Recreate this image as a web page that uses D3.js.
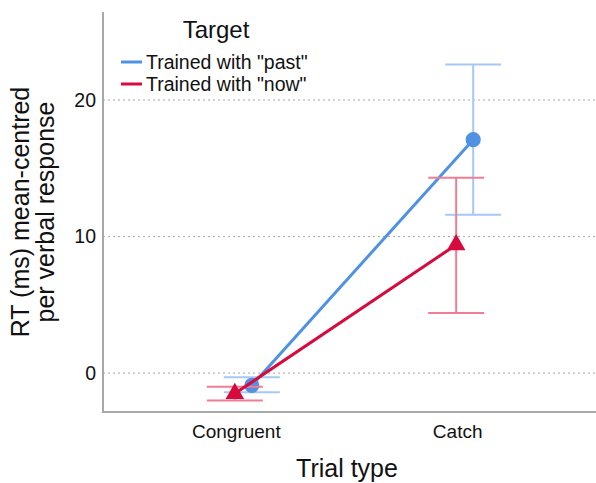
<!DOCTYPE html>
<html>
<head>
<meta charset="utf-8">
<script src="https://cdn.jsdelivr.net/npm/d3@7"></script>
<style>
    body { margin: 0; background: #fff; }
    .chart text { font-family: "Liberation Sans", Arial, sans-serif; fill: #111; }
    .grid line { stroke: #a6a6a6; stroke-dasharray: 2 3; stroke-width: 1; }
    .axis-line { stroke: #a8a8a8; stroke-width: 2; }
</style>
</head>
<body>
<div class="chart"></div>
<script>
const trialTypes = ['Congruent', 'Catch'];
const targets = ['Trained with "past"', 'Trained with "now"'];
const pastMeans = [-0.9, 17.1];
const pastLower = [-1.4, 11.6];
const pastUpper = [-0.3, 22.6];
const nowMeans = [-1.5, 9.4];
const nowLower = [-2.0, 4.4];
const nowUpper = [-1.0, 14.3];
const yTicks = [0, 10, 20];

const colours = ['#4f92e3', '#d60a3c'];
const barColours = ['#a5c9f4', '#ef7e95'];

class TrialChart {
    constructor() {
        this.container = document.querySelector('.chart');
        this.width = 596;
        this.height = 483;
        this.margin = { top: 12, right: 0, bottom: 71, left: 103 };

        this.series = [
            { name: targets[0], means: pastMeans, lower: pastLower, upper: pastUpper, shape: 'circle' },
            { name: targets[1], means: nowMeans, lower: nowLower, upper: nowUpper, shape: 'triangle' },
        ];

        this.appendSVG();
        this.scaleX();
        this.scaleY();
        this.addGrid();
        this.addAxes();
        this.addSeries();
        this.addLabels();
        this.addLegend();
    }

    appendSVG() {
        this.svg = d3.select(this.container)
            .append('svg')
            .attr('width', this.width)
            .attr('height', this.height);
    }

    scaleX() {
        this.x = d3.scalePoint()
            .domain(trialTypes)
            .range([this.margin.left, this.width - 6])
            .padding(0.6);

        // SPSS-style dodge: "past" sits a little right of "now"
        this.dodge = d3.scalePoint()
            .domain(targets)
            .range([16, -1]);
    }

    scaleY() {
        this.y = d3.scaleLinear()
            .domain([-2.85, 26.45])
            .range([this.height - this.margin.bottom, this.margin.top]);
    }

    addGrid() {
        this.svg.append('g')
            .attr('class', 'grid')
            .selectAll('line')
            .data(yTicks)
            .enter()
            .append('line')
            .attr('x1', this.margin.left)
            .attr('x2', this.width)
            .attr('y1', (d) => this.y(d))
            .attr('y2', (d) => this.y(d));
    }

    addAxes() {
        const yAxis = this.svg.append('g')
            .attr('transform', `translate(${this.margin.left},0)`)
            .call(d3.axisLeft(this.y).tickValues(yTicks).tickSize(0).tickPadding(7));
        yAxis.select('.domain').remove();
        yAxis.selectAll('text').style('font-size', '19.5px');

        const xAxis = this.svg.append('g')
            .attr('transform', `translate(0,${this.y.range()[0]})`)
            .call(d3.axisBottom(this.x).tickSize(0).tickPadding(13));
        xAxis.select('.domain').remove();
        xAxis.selectAll('text').style('font-size', '19px');

        this.svg.append('line')
            .attr('class', 'axis-line')
            .attr('x1', this.margin.left)
            .attr('x2', this.margin.left)
            .attr('y1', this.margin.top)
            .attr('y2', this.y.range()[0] + 1);

        this.svg.append('line')
            .attr('class', 'axis-line')
            .attr('x1', this.margin.left - 1)
            .attr('x2', this.width)
            .attr('y1', this.y.range()[0])
            .attr('y2', this.y.range()[0]);
    }

    xPos(s, i) {
        return this.x(trialTypes[i]) + this.dodge(s.name);
    }

    addSeries() {
        const capHalf = 28;

        // each series drawn whole: bars, line, markers; "now" ends up on top
        this.series.forEach((s, k) => {
            const g = this.svg.append('g')
                .attr('stroke', barColours[k])
                .attr('stroke-width', 2)
                .attr('fill', 'none');

            trialTypes.forEach((t, i) => {
                const cx = this.xPos(s, i);
                g.append('line')
                    .attr('x1', cx).attr('x2', cx)
                    .attr('y1', this.y(s.lower[i])).attr('y2', this.y(s.upper[i]));
                [s.lower[i], s.upper[i]].forEach((v) => {
                    g.append('line')
                        .attr('x1', cx - capHalf).attr('x2', cx + capHalf)
                        .attr('y1', this.y(v)).attr('y2', this.y(v));
                });
            });

            const line = d3.line()
                .x((d, i) => this.xPos(s, i))
                .y((d) => this.y(d));

            const symbol = s.shape === 'circle'
                ? d3.symbol().type(d3.symbolCircle).size(180)
                : d3.symbol().type(d3.symbolTriangle).size(150);

            this.svg.append('g')
                .selectAll('path')
                .data(s.means)
                .enter()
                .append('path')
                .attr('d', symbol)
                .attr('transform', (d, i) => `translate(${this.xPos(s, i)},${this.y(d)})`)
                .attr('fill', colours[k]);

            this.svg.append('path')
                .datum(s.means)
                .attr('d', line)
                .attr('fill', 'none')
                .attr('stroke', colours[k])
                .attr('stroke-width', 3);
        });
    }

    addLabels() {
        const yLabel = this.svg.append('text')
            .attr('transform', `translate(32,${(this.margin.top + this.y.range()[0]) / 2}) rotate(-90)`)
            .attr('text-anchor', 'middle')
            .style('font-size', '25px');
        yLabel.append('tspan').attr('x', 0).attr('dy', -3).text('RT (ms) mean-centred');
        yLabel.append('tspan').attr('x', 0).attr('dy', 25).text('per verbal response');

        this.svg.append('text')
            .attr('x', 347)
            .attr('y', 477)
            .attr('text-anchor', 'middle')
            .style('font-size', '25px')
            .text('Trial type');
    }

    addLegend() {
        const legend = this.svg.append('g').attr('class', 'legend');

        legend.append('text')
            .attr('x', 216)
            .attr('y', 38)
            .attr('text-anchor', 'middle')
            .style('font-size', '24px')
            .text('Target');

        targets.forEach((name, k) => {
            const row = legend.append('g')
                .attr('transform', `translate(121,${62 + k * 22})`);
            row.append('line')
                .attr('x1', 0).attr('x2', 21)
                .attr('stroke', colours[k])
                .attr('stroke-width', 3);
            row.append('text')
                .attr('x', 25)
                .attr('y', 7)
                .style('font-size', '19.5px')
                .text(name);
        });
    }
}

new TrialChart();
</script>
</body>
</html>
